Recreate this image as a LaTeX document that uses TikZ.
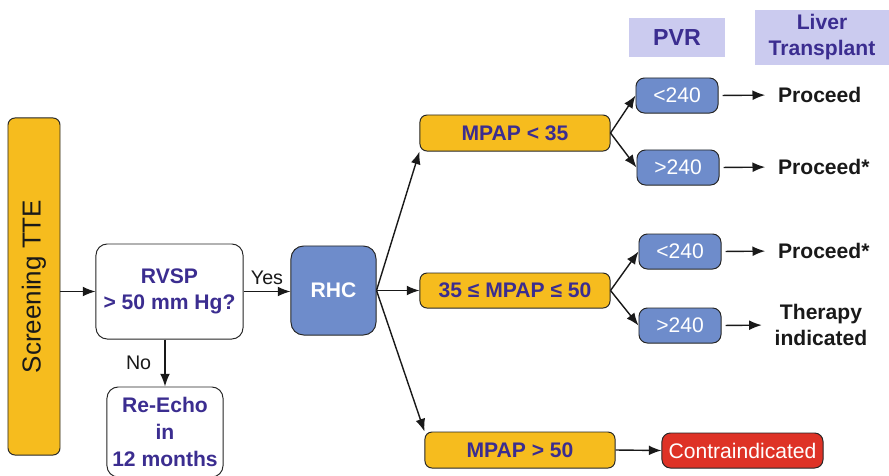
\documentclass[tikz,border=0pt]{standalone}
\usepackage{fontspec}
\setmainfont{Liberation Sans}
\usepackage{tikz}
\usetikzlibrary{arrows.meta,positioning}
\definecolor{ttegold}{HTML}{F6BC1E}
\definecolor{rhcblue}{HTML}{6E8CCB}
\definecolor{indigotext}{HTML}{3B2D90}
\definecolor{headlilac}{HTML}{CBCBEF}
\definecolor{stopred}{HTML}{DE3226}

\begin{document}
\begin{tikzpicture}[x=0.025cm, y=-0.025cm,
    bigfont/.style={font=\fontsize{15}{19}\selectfont\bfseries},
    goldbox/.style={draw=black!85, line width=0.7pt, rounded corners=5pt, fill=ttegold, text=indigotext, bigfont, inner sep=2pt},
    whitebox/.style={draw=black!85, line width=0.7pt, rounded corners=8pt, fill=white, text=indigotext, bigfont, align=center, inner sep=2pt},
    bluebox/.style={draw=black!85, line width=0.7pt, rounded corners=6pt, fill=rhcblue, text=white, font=\fontsize{15}{19}\selectfont, inner sep=2pt},
    header/.style={fill=headlilac, text=indigotext, bigfont, align=center, inner sep=2pt},
    outcome/.style={text=black!90, bigfont, align=center, inner sep=2pt},
    arr/.style={-{Latex[length=9pt,width=7pt]}, line width=1pt, black!90}]
\useasboundingbox (0,0) rectangle (889,475);

% screening and first question
\node[goldbox, rotate=90, minimum width=8.425cm, minimum height=1.3cm, font=\fontsize{18.5}{21}\selectfont, text=black!90] (tte) at (34,286.5) {Screening TTE};
\node[whitebox, minimum width=3.675cm, minimum height=2.375cm] (rvsp) at (169.5,291.5) {RVSP\\> 50 mm Hg?};
\node[whitebox, minimum width=2.9cm, minimum height=2.25cm] (reecho) at (165,432) {Re-Echo\\in\\12 months};
\node[bluebox, bigfont, rounded corners=9pt, minimum width=2.125cm, minimum height=2.225cm] (rhc) at (333.5,290.5) {RHC};

\draw[arr] (rvsp.west -| tte.south) -- (rvsp.west);
\draw[arr] (rvsp.east) -- (rvsp.east -| rhc.west) node[midway, above, font=\fontsize{14}{16}\selectfont, yshift=1pt] {Yes};
\draw[arr] (rvsp.south -| reecho.north) -- (reecho.north) node[midway, left, font=\fontsize{14}{16}\selectfont, xshift=-6pt] {No};

% pressure ranges from RHC
\node[goldbox, minimum width=4.75cm, minimum height=0.9cm] (low) at (515,133) {MPAP < 35};
\node[goldbox, minimum width=4.75cm, minimum height=0.875cm] (mid) at (515,290.5) {35 ≤ MPAP ≤ 50};
\node[goldbox, minimum width=4.75cm, minimum height=0.9cm] (high) at (520,450) {MPAP > 50};

\draw[arr] (rhc.east) -- (low.south west);
\draw[arr] (rhc.east) -- (mid.west);
\draw[arr] (rhc.east) -- (high.north west);

% column headers
\node[header, minimum width=2.4cm, minimum height=0.975cm, font=\fontsize{16.5}{19}\selectfont\bfseries] (pvr) at (677,37.5) {PVR};
\node[header, minimum width=3.35cm, minimum height=1.375cm, font=\fontsize{15}{18.5}\selectfont\bfseries] (liver) at (822,37.5) {Liver\\Transplant};

% PVR split
\node[bluebox, minimum width=2.05cm, minimum height=0.875cm] (lowa) at (677,95.5) {<240};
\node[bluebox, minimum width=2.05cm, minimum height=0.875cm] (lowb) at (678,167.5) {>240};
\node[bluebox, minimum width=2.05cm, minimum height=0.875cm] (mida) at (680,251.5) {<240};
\node[bluebox, minimum width=2.05cm, minimum height=0.875cm] (midb) at (680,325.5) {>240};
\node[bluebox, fill=stopred, minimum width=4.025cm, minimum height=0.875cm] (contra) at (742.5,450.5) {Contraindicated};

\draw[arr] (low.east) -- (lowa.west);
\draw[arr] (low.east) -- (lowb.west);
\draw[arr] (mid.east) -- (mida.west);
\draw[arr] (mid.east) -- (midb.west);
\draw[arr] (high.east) -- (contra.west);

% outcomes
\node[outcome, anchor=west] (outa) at (775,95) {Proceed};
\node[outcome, anchor=west] (outb) at (775,167) {Proceed*};
\node[outcome, anchor=west] (outc) at (775,251) {Proceed*};
\node[outcome] (outd) at (821,325) {Therapy\\indicated};

\draw[arr, shorten <=3pt, shorten >=7pt] (lowa.east) -- (outa.west);
\draw[arr, shorten <=3pt, shorten >=7pt] (lowb.east) -- (outb.west);
\draw[arr, shorten <=3pt, shorten >=7pt] (mida.east) -- (outc.west);
\draw[arr, shorten <=3pt, shorten >=7pt] (midb.east) -- (outd.west);
\end{tikzpicture}
\end{document}
